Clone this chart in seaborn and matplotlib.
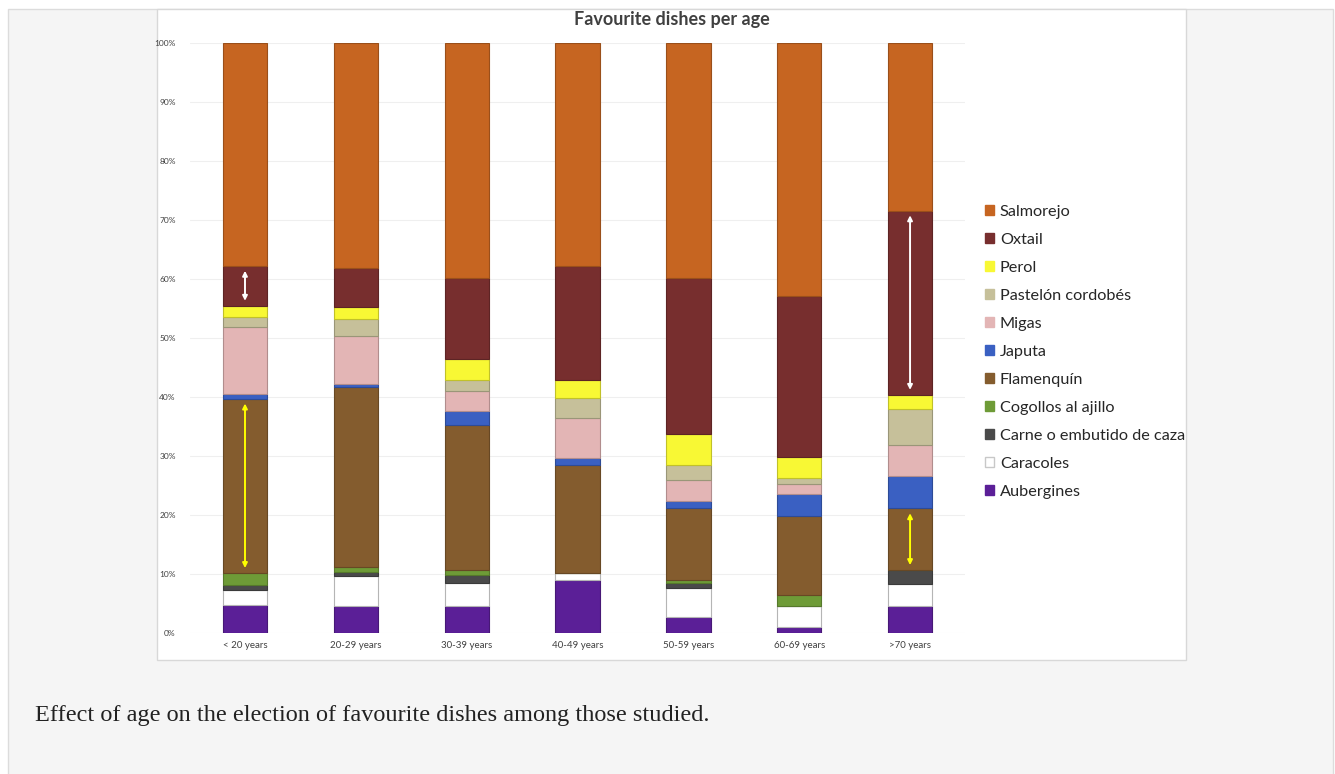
import matplotlib
matplotlib.use("Agg")
import numpy as np
import seaborn as sns
from matplotlib import pyplot as plt
from matplotlib import colors as mcolors
from matplotlib.patches import Rectangle, Patch

# age groups on the x axis
ages = ["< 20 years", "20-29 years", "30-39 years", "40-49 years",
        "50-59 years", "60-69 years", ">70 years"]

# share of each dish per age group (%), bottom of the stack first
aubergines = [4.8, 4.5, 4.5, 9.0, 2.7, 1.0, 4.6]
caracoles = [2.5, 5.1, 3.9, 1.1, 4.9, 3.6, 3.7]
carne = [0.9, 0.8, 1.4, 0.0, 0.8, 0.0, 2.4]
cogollos = [2.0, 0.7, 0.9, 0.0, 0.6, 1.8, 0.0]
flamenquin = [29.5, 30.6, 24.5, 18.3, 12.1, 13.4, 10.4]
japuta = [0.8, 0.5, 2.5, 1.2, 1.3, 3.7, 5.5]
migas = [11.3, 8.2, 3.3, 6.9, 3.6, 1.8, 5.2]
pastelon = [1.7, 2.8, 1.8, 3.4, 2.4, 0.9, 6.2]
perol = [2.0, 2.0, 3.7, 2.9, 5.3, 3.6, 2.4]
oxtail = [6.7, 6.7, 13.7, 19.4, 26.5, 27.3, 31.2]
salmorejo = [37.8, 38.1, 39.8, 37.8, 39.8, 42.9, 28.4]

dishes = ["Aubergines", "Caracoles", "Carne o embutido de caza", "Cogollos al ajillo",
          "Flamenquín", "Japuta", "Migas", "Pastelón cordobés", "Perol", "Oxtail", "Salmorejo"]
series = [aubergines, caracoles, carne, cogollos, flamenquin, japuta,
          migas, pastelon, perol, oxtail, salmorejo]
palette = ["#5b1f97", "#ffffff", "#4a4a4a", "#6e9b37", "#845c2e", "#3a60c2",
           "#e3b5b5", "#c6c09a", "#f8f834", "#772e2e", "#c66521"]

title = "Favourite dishes per age"
caption = "Effect of age on the election of favourite dishes among those studied."

sns.set_style("white")
plt.rcParams["font.family"] = ["Lato", "DejaVu Sans"]

fig = plt.figure(figsize=(13.35, 7.74), dpi=100, facecolor="white")

# page panel and white chart box behind the plot
fig.patches.append(Rectangle((8 / 1335, -0.01), 1325 / 1335, 0.9984, transform=fig.transFigure,
                             facecolor="#f5f5f5", edgecolor="#dcdcdc", linewidth=1, zorder=-3))
fig.patches.append(Rectangle((157 / 1335, 0.1473), 0.7711, 0.8411, transform=fig.transFigure,
                             facecolor="white", edgecolor="#d8d8d8", linewidth=1, zorder=-2))

ax = fig.add_axes([0.142, 0.1822, 0.5812, 0.7622])
ax.set_facecolor("none")

bottom = np.zeros(len(ages))
for name, vals, col in zip(dishes, series, palette):
    vals = np.array(vals) / 100
    rgb = np.array(mcolors.to_rgb(col))
    edge = "#b5b5b5" if col == "#ffffff" else rgb * 0.78
    sns.barplot(x=ages, y=vals, bottom=bottom, color=col, width=0.4, order=ages,
                saturation=1, edgecolor=edge, linewidth=0.8, errorbar=None, ax=ax, zorder=3)
    bottom += vals

# double arrows marking the Flamenquín and Oxtail differences
cum = np.cumsum(np.array(series), axis=0) / 100
pad = 0.008
i_fl, i_ox = dishes.index("Flamenquín"), dishes.index("Oxtail")
for b in [0, 6]:
    for idx, col in [(i_fl, "#ffff00"), (i_ox, "white")]:
        lo, hi = cum[idx - 1][b] + pad, cum[idx][b] - pad
        ax.annotate("", xy=(b, hi), xytext=(b, lo),
                    arrowprops=dict(arrowstyle="<|-|>", color=col, lw=1.4,
                                    mutation_scale=7, shrinkA=0, shrinkB=0), zorder=5)

ax.set_ylim(0, 1)
ax.set_xlim(-0.5, len(ages) - 0.5)
ax.set_yticks(np.arange(0, 1.01, 0.1))
ax.set_yticklabels([f"{int(round(t * 100))}%" for t in np.arange(0, 1.01, 0.1)],
                   fontsize=6, color="#404040")
ax.tick_params(axis="x", labelsize=7, colors="#404040", length=0, pad=6)
ax.tick_params(axis="y", length=0, pad=10)
ax.yaxis.grid(True, color="#efefef", linewidth=0.8, zorder=0)
ax.set_axisbelow(True)
ax.set_xlabel("")
ax.set_ylabel("")
for s in ax.spines.values():
    s.set_visible(False)

fig.text(0.503, 0.975, title, ha="center", va="center", fontsize=13,
         fontweight="bold", color="#404040")

# legend, top of the stack first
handles = [Patch(facecolor=c, edgecolor=("#c8c8c8" if c == "#ffffff" else c))
           for c in palette[::-1]]
fig.legend(handles, dishes[::-1], loc="upper left", bbox_to_anchor=(0.727, 0.754),
           frameon=False, fontsize=11.7, handlelength=0.55, handleheight=0.55,
           handletextpad=0.35, labelspacing=0.86, labelcolor="#262626")

fig.text(35 / 1335, 1 - 716 / 774, caption, ha="left", va="center", fontsize=17.5,
         family="Liberation Serif", color="#222222")

fig.savefig("out.png", dpi=100, facecolor="white")
